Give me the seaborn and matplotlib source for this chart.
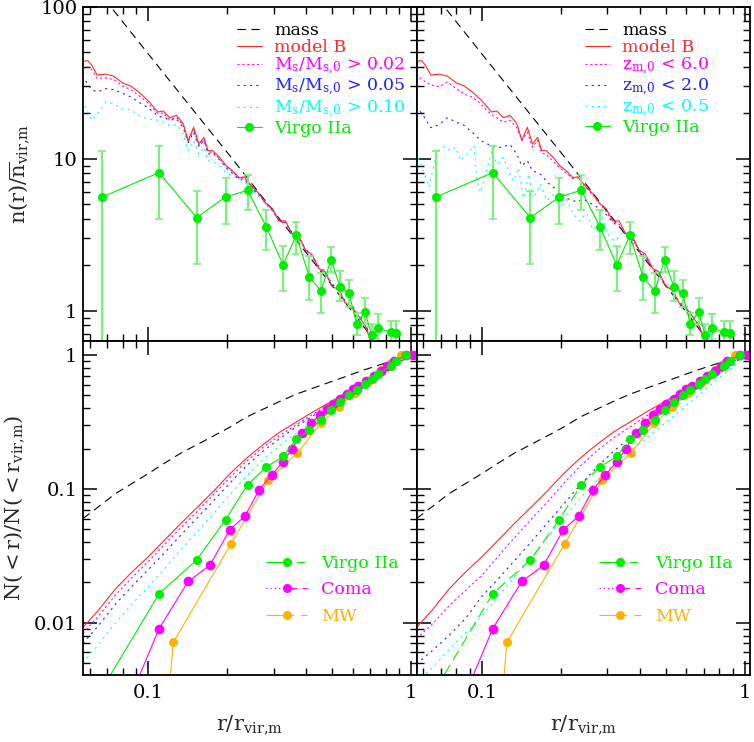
import numpy as np
import matplotlib
matplotlib.use('Agg')
import matplotlib.pyplot as plt
import seaborn as sns
from matplotlib.lines import Line2D
from matplotlib.ticker import LogLocator, FuncFormatter, NullFormatter

sns.set_style('ticks')
plt.rcParams['font.family'] = ['DejaVu Serif']
plt.rcParams['mathtext.fontset'] = 'dejavuserif'
plt.rcParams['lines.scale_dashes'] = False

# ---- top row: n(r)/nbar profiles ----
rx = [0.056, 0.059, 0.061, 0.064, 0.069, 0.074, 0.080, 0.086, 0.092, 0.099,
      0.105, 0.109, 0.114, 0.121, 0.128, 0.136, 0.142, 0.149, 0.156, 0.163,
      0.169, 0.176, 0.187, 0.198, 0.210, 0.222, 0.232, 0.239, 0.250, 0.264,
      0.280, 0.297, 0.315, 0.333, 0.353, 0.374, 0.397, 0.420, 0.446, 0.472,
      0.500, 0.530, 0.562, 0.596, 0.632, 0.670, 0.700, 0.740]
red_n = [43.5, 44.2, 41.3, 35.5, 36.0, 34.9, 31.5, 30.0, 27.5, 24.5,
         21.9, 20.3, 20.6, 18.6, 19.3, 17.0, 13.2, 16.1, 12.5, 13.8,
         11.3, 11.3, 10.2, 9.0, 8.3, 7.5, 7.6, 7.1, 6.5, 5.9,
         5.1, 4.7, 3.9, 3.9, 3.2, 3.1, 2.5, 2.35, 1.9, 1.8,
         1.45, 1.38, 1.13, 1.06, 0.92, 0.80, 0.64, 0.55]
ms02 = [41.3, 40.0, 38.7, 33.7, 34.0, 33.2, 30.0, 28.5, 26.1, 23.6,
        21.2, 19.8, 20.0, 18.0, 18.7, 16.5, 12.9, 15.7, 12.2, 13.5,
        11.0, 11.1, 10.0, 8.9, 8.2, 7.4, 7.5, 7.0, 6.4, 5.8,
        5.1, 4.6, 3.9, 3.8, 3.2, 3.05, 2.5, 2.3, 1.9, 1.78,
        1.45, 1.36, 1.12, 1.04, 0.91, 0.80, 0.64, 0.55]
ms05 = [35.0, 31.0, 28.5, 27.5, 28.9, 28.5, 26.9, 25.5, 23.6, 21.9,
        20.3, 19.0, 18.8, 17.9, 18.3, 16.0, 12.8, 14.9, 12.0, 13.2,
        10.7, 10.9, 9.8, 8.7, 8.0, 7.3, 7.4, 6.9, 6.3, 5.8,
        5.2, 4.6, 3.9, 3.8, 3.25, 3.0, 2.55, 2.3, 1.95, 1.78,
        1.5, 1.38, 1.15, 1.07, 0.93, 0.82, 0.68, 0.58]
ms10 = [24.2, 20.3, 17.9, 19.5, 23.6, 23.0, 21.3, 21.0, 19.3, 18.3,
        18.0, 17.9, 17.4, 16.5, 16.8, 14.6, 11.3, 13.2, 10.7, 11.9,
        9.7, 9.6, 9.0, 8.1, 7.7, 7.3, 7.1, 6.7, 6.2, 5.6,
        5.0, 4.5, 3.8, 3.7, 3.2, 3.0, 2.55, 2.35, 1.95, 1.85,
        1.5, 1.42, 1.15, 1.10, 0.95, 0.85, 0.72, 0.62]
zm60 = [35.5, 33.5, 32.0, 30.5, 29.8, 32.0, 28.9, 26.5, 25.5, 23.0,
        20.6, 19.5, 18.6, 17.4, 17.9, 16.0, 13.2, 14.9, 11.9, 13.2,
        10.9, 10.7, 9.6, 8.7, 8.0, 7.4, 7.5, 7.0, 6.4, 5.8,
        5.1, 4.5, 3.9, 3.7, 3.2, 2.95, 2.5, 2.25, 1.9, 1.75,
        1.46, 1.36, 1.13, 1.04, 0.92, 0.80, 0.65, 0.56]
zm20 = [21.9, 20.0, 18.3, 16.0, 16.8, 18.6, 17.4, 16.5, 14.9, 13.2,
        12.5, 12.2, 11.8, 12.0, 12.4, 10.7, 9.0, 9.7, 8.3, 8.1,
        7.8, 7.1, 6.5, 6.1, 5.5, 5.3, 5.2, 5.4, 5.3, 5.0,
        4.7, 4.3, 3.8, 3.6, 3.15, 2.95, 2.5, 2.25, 1.9, 1.76,
        1.47, 1.37, 1.14, 1.05, 0.93, 0.81, 0.67, 0.57]
zx05 = [0.056, 0.0594, 0.063, 0.0677, 0.0718, 0.0761, 0.0795, 0.083, 0.088, 0.0933,
        0.096, 0.0989, 0.1033, 0.1094, 0.114, 0.121, 0.1265, 0.132, 0.138, 0.144,
        0.151, 0.157, 0.167, 0.177, 0.187, 0.199, 0.210, 0.223, 0.236, 0.250,
        0.265, 0.285, 0.300, 0.320, 0.345, 0.370, 0.400, 0.430, 0.460, 0.500,
        0.530, 0.560, 0.600, 0.630, 0.670, 0.700, 0.740, 0.780]
zm05 = [11.0, 8.7, 6.5, 11.3, 12.0, 11.3, 11.9, 9.7, 10.7, 12.2,
        7.1, 6.0, 7.9, 11.3, 9.2, 10.2, 8.3, 7.1, 8.7, 5.5,
        7.9, 5.5, 6.8, 5.3, 5.8, 4.8, 5.4, 4.3, 3.9, 4.4,
        3.4, 4.3, 3.2, 2.87, 3.3, 3.2, 2.4, 2.1, 1.9, 1.5,
        1.45, 1.15, 1.10, 0.95, 0.88, 0.75, 0.70, 0.65]
mass_x = [0.056, 0.072, 0.100, 0.150, 0.209, 0.300, 0.400, 0.500, 0.594, 0.700, 0.800]
mass_n = [166, 100, 49, 20.4, 10, 4.5, 2.4, 1.47, 1.0, 0.69, 0.49]

# Virgo IIa density with error bars
vx = [0.0669, 0.110, 0.153, 0.197, 0.239, 0.282, 0.326, 0.366, 0.411, 0.455,
      0.496, 0.537, 0.581, 0.621, 0.668, 0.708, 0.750, 0.837, 0.880]
vy = [5.6, 8.1, 4.1, 5.6, 6.2, 3.55, 2.0, 3.13, 1.66, 1.35,
      2.17, 1.44, 1.30, 0.82, 0.98, 0.69, 0.77, 0.72, 0.71]
v_lo = [0.3, 4.0, 2.04, 3.7, 4.6, 2.5, 1.34, 2.37, 1.18, 0.96,
        1.79, 1.16, 1.06, 0.69, 0.82, 0.55, 0.60, 0.58, 0.58]
v_hi = [11.2, 12.1, 6.1, 7.45, 7.8, 4.57, 2.65, 3.85, 2.28, 1.77,
        2.61, 1.83, 1.60, 0.97, 1.22, 0.82, 0.95, 0.855, 0.85]

# ---- bottom row: cumulative N(<r)/N(<rvir) ----
cx = [0.0565, 0.065, 0.075, 0.087, 0.100, 0.115, 0.133, 0.154, 0.178, 0.205,
      0.237, 0.274, 0.316, 0.365, 0.422, 0.487, 0.562, 0.649, 0.750, 0.866,
      0.950, 1.000]
mass_c = [0.060, 0.074, 0.092, 0.110, 0.130, 0.155, 0.185, 0.215, 0.250, 0.290,
          0.345, 0.395, 0.450, 0.510, 0.565, 0.625, 0.690, 0.765, 0.840, 0.920,
          0.970, 1.000]
red_c = [0.0092, 0.0125, 0.0178, 0.024, 0.031, 0.041, 0.055, 0.073, 0.097, 0.130,
         0.170, 0.215, 0.265, 0.315, 0.375, 0.44, 0.52, 0.61, 0.72, 0.85, 0.95, 1.0]
ms02_c = [0.0083, 0.0113, 0.016, 0.0218, 0.0285, 0.038, 0.051, 0.068, 0.091, 0.122,
          0.161, 0.205, 0.25, 0.30, 0.36, 0.43, 0.51, 0.60, 0.71, 0.84, 0.94, 1.0]
ms05_c = [0.0070, 0.0096, 0.0137, 0.0188, 0.0248, 0.033, 0.045, 0.061, 0.082, 0.111,
          0.149, 0.192, 0.237, 0.29, 0.35, 0.42, 0.50, 0.59, 0.70, 0.83, 0.94, 1.0]
ms10_c = [0.0050, 0.0069, 0.0099, 0.0138, 0.0185, 0.025, 0.035, 0.048, 0.066, 0.091,
          0.125, 0.165, 0.21, 0.26, 0.32, 0.39, 0.475, 0.57, 0.68, 0.82, 0.93, 1.0]
zm60_c = [0.0076, 0.0098, 0.0133, 0.0175, 0.0225, 0.031, 0.043, 0.059, 0.080, 0.110,
          0.148, 0.192, 0.24, 0.29, 0.35, 0.42, 0.50, 0.59, 0.70, 0.84, 0.94, 1.0]
zm20_c = [0.0049, 0.0062, 0.0080, 0.0108, 0.0157, 0.021, 0.029, 0.040, 0.056, 0.077,
          0.107, 0.145, 0.19, 0.24, 0.30, 0.37, 0.45, 0.55, 0.67, 0.81, 0.93, 1.0]
zm05_c = [0.0036, 0.0046, 0.0063, 0.0084, 0.0112, 0.0155, 0.022, 0.030, 0.0435, 0.061,
          0.085, 0.115, 0.15, 0.19, 0.24, 0.30, 0.38, 0.48, 0.61, 0.77, 0.90, 1.0]

virgo_cx = [0.0669, 0.110, 0.153, 0.197, 0.239, 0.282, 0.326, 0.366, 0.411, 0.455,
            0.496, 0.537, 0.581, 0.621, 0.668, 0.708, 0.750, 0.837, 0.880, 0.960]
virgo_cy = [0.0032, 0.0164, 0.0294, 0.0587, 0.1077, 0.146, 0.175, 0.235, 0.274, 0.33,
            0.39, 0.446, 0.50, 0.55, 0.61, 0.66, 0.72, 0.83, 0.90, 1.0]
coma_x = [0.080, 0.110, 0.142, 0.172, 0.204, 0.234, 0.264, 0.295, 0.326, 0.353,
          0.385, 0.418, 0.450, 0.478, 0.503, 0.537, 0.570, 0.600, 0.630, 0.675,
          0.720, 0.770, 0.810, 0.860, 0.960, 1.020]
coma_y = [0.002, 0.0090, 0.0203, 0.0269, 0.0492, 0.063, 0.098, 0.127, 0.159, 0.200,
          0.263, 0.313, 0.357, 0.393, 0.428, 0.467, 0.51, 0.555, 0.587, 0.64,
          0.70, 0.76, 0.83, 0.90, 1.0, 1.0]
mw_x = [0.118, 0.1246, 0.207, 0.287, 0.369, 0.453, 0.530, 0.610, 0.688, 0.770, 0.840, 0.920, 1.010]
mw_y = [0.002, 0.0071, 0.039, 0.117, 0.185, 0.309, 0.409, 0.52, 0.63, 0.77, 0.88, 1.0, 1.0]

c_red = '#ff2a2a'
c_mag = '#ff00ff'
c_blue = '#2020ff'
c_cyan = '#00ffff'
c_green = '#00ee00'
c_err = '#7cf07c'
c_orange = '#ffb000'
lw = 0.8

fig, axes = plt.subplots(2, 2, figsize=(7.54, 7.42), dpi=100)
plt.subplots_adjust(left=0.110, right=0.995, bottom=0.090, top=0.991, wspace=0, hspace=0)

for ax in axes.flat:
    ax.set_xscale('log')
    ax.set_yscale('log')
    ax.set_xlim(0.0565, 1.05)

# top row
for j, ax in enumerate(axes[0]):
    sns.lineplot(x=mass_x, y=mass_n, ax=ax, color='k', lw=lw, linestyle=(0, (6, 4)), sort=False, estimator=None)
    if j == 0:
        sns.lineplot(x=rx, y=ms10, ax=ax, color=c_cyan, lw=lw, linestyle=(0, (1.5, 3)), sort=False, estimator=None)
        sns.lineplot(x=rx, y=ms05, ax=ax, color=c_blue, lw=lw, linestyle=(0, (1.5, 3)), sort=False, estimator=None)
        sns.lineplot(x=rx, y=ms02, ax=ax, color=c_mag, lw=lw, linestyle=(0, (1.5, 2)), sort=False, estimator=None)
    else:
        sns.lineplot(x=zx05, y=zm05, ax=ax, color=c_cyan, lw=lw, linestyle=(0, (1.5, 3)), sort=False, estimator=None)
        sns.lineplot(x=rx, y=zm20, ax=ax, color=c_blue, lw=lw, linestyle=(0, (1.5, 3)), sort=False, estimator=None)
        sns.lineplot(x=rx, y=zm60, ax=ax, color=c_mag, lw=lw, linestyle=(0, (1.5, 2)), sort=False, estimator=None)
    sns.lineplot(x=rx, y=red_n, ax=ax, color=c_red, lw=lw, sort=False, estimator=None)
    yerr = [np.array(vy) - np.array(v_lo), np.array(v_hi) - np.array(vy)]
    ax.errorbar(vx, vy, yerr=yerr, fmt='none', ecolor=c_err, elinewidth=1.6, capsize=3, capthick=1.2)
    sns.lineplot(x=vx, y=vy, ax=ax, color=c_green, lw=lw, marker='o', markersize=6.5,
                 markeredgewidth=0, sort=False, estimator=None)
    ax.set_ylim(0.633, 100)

# bottom row
for j, ax in enumerate(axes[1]):
    sns.lineplot(x=cx, y=mass_c, ax=ax, color='k', lw=lw, linestyle=(0, (6, 4)), sort=False, estimator=None)
    if j == 0:
        sns.lineplot(x=cx, y=ms10_c, ax=ax, color=c_cyan, lw=lw, linestyle=(0, (1.5, 3)), sort=False, estimator=None)
        sns.lineplot(x=cx, y=ms05_c, ax=ax, color=c_blue, lw=lw, linestyle=(0, (1.5, 3)), sort=False, estimator=None)
        sns.lineplot(x=cx, y=ms02_c, ax=ax, color=c_mag, lw=lw, linestyle=(0, (1.5, 2)), sort=False, estimator=None)
        vls = '-'
    else:
        sns.lineplot(x=cx, y=zm05_c, ax=ax, color=c_cyan, lw=lw, linestyle=(0, (1.5, 3)), sort=False, estimator=None)
        sns.lineplot(x=cx, y=zm20_c, ax=ax, color=c_blue, lw=lw, linestyle=(0, (1.5, 3)), sort=False, estimator=None)
        sns.lineplot(x=cx, y=zm60_c, ax=ax, color=c_mag, lw=lw, linestyle=(0, (1.5, 2)), sort=False, estimator=None)
        vls = (0, (8, 4))
    sns.lineplot(x=cx, y=red_c, ax=ax, color=c_red, lw=lw, sort=False, estimator=None)
    sns.lineplot(x=mw_x, y=mw_y, ax=ax, color=c_orange, lw=lw, marker='o', markersize=6.5,
                 markeredgewidth=0, sort=False, estimator=None)
    sns.lineplot(x=coma_x, y=coma_y, ax=ax, color=c_mag, lw=lw, marker='o', markersize=7,
                 markeredgewidth=0, sort=False, estimator=None)
    sns.lineplot(x=virgo_cx, y=virgo_cy, ax=ax, color=c_green, lw=lw, linestyle=vls, marker='o',
                 markersize=6.5, markeredgewidth=0, sort=False, estimator=None)
    ax.set_ylim(0.00404, 1.278)

# ticks
fmt = FuncFormatter(lambda v, p: '%g' % v)
for i, ax in enumerate(axes.flat):
    ax.xaxis.set_major_locator(LogLocator(base=10))
    ax.yaxis.set_major_locator(LogLocator(base=10))
    ax.xaxis.set_minor_locator(LogLocator(base=10, subs=np.arange(2, 10)))
    ax.yaxis.set_minor_locator(LogLocator(base=10, subs=np.arange(2, 10)))
    ax.xaxis.set_major_formatter(fmt)
    ax.yaxis.set_major_formatter(fmt)
    ax.xaxis.set_minor_formatter(NullFormatter())
    ax.yaxis.set_minor_formatter(NullFormatter())
    ax.tick_params(which='both', direction='in', top=True, right=True, bottom=True, left=True,
                   labelsize=14, colors='k')
    ax.tick_params(which='major', length=10, width=1.1)
    ax.tick_params(which='minor', length=5, width=1.0)
    ax.tick_params(axis='x', pad=6)
    ax.tick_params(axis='y', pad=4)
    for s in ax.spines.values():
        s.set_linewidth(1.3)
        s.set_color('k')
    ax.set_xlabel(None)
    ax.set_ylabel(None)

for ax in axes[0]:
    ax.tick_params(labelbottom=False)
for ax in axes[:, 1]:
    ax.tick_params(labelleft=False)

axes[0, 0].set_ylabel(r'$\mathrm{n(r)/\overline{n}_{vir{,}m}}$', fontsize=15, labelpad=6)
axes[1, 0].set_ylabel(r'$\mathrm{N(<r)/N(<r_{vir{,}m})}$', fontsize=15, labelpad=6)
for ax in axes[1]:
    ax.set_xlabel(r'$\mathrm{r/r_{vir{,}m}}$', fontsize=15, labelpad=8)

# legends
h_mass = Line2D([], [], color='k', lw=lw, ls=(0, (6, 4)))
h_red = Line2D([], [], color=c_red, lw=lw)
h_mag = Line2D([], [], color=c_mag, lw=lw, ls=(0, (1.5, 2)))
h_blue = Line2D([], [], color=c_blue, lw=lw, ls=(0, (1.5, 3)))
h_cyan = Line2D([], [], color=c_cyan, lw=lw, ls=(0, (1.5, 3)))
h_vir = Line2D([], [], color=c_green, lw=lw, marker='o', markersize=6.5, markeredgewidth=0)
top_handles = [h_mass, h_red, h_mag, h_blue, h_cyan, h_vir]
left_labels = ['mass', 'model B',
               r'$\mathrm{M_s/M_{s{,}0}}$ > 0.02',
               r'$\mathrm{M_s/M_{s{,}0}}$ > 0.05',
               r'$\mathrm{M_s/M_{s{,}0}}$ > 0.10',
               'Virgo IIa']
right_labels = ['mass', 'model B',
                r'$\mathrm{z_{m{,}0}}$ < 6.0',
                r'$\mathrm{z_{m{,}0}}$ < 2.0',
                r'$\mathrm{z_{m{,}0}}$ < 0.5',
                'Virgo IIa']
leg_kw = dict(frameon=False, fontsize=12.5, handlelength=1.45, handletextpad=0.7,
              labelspacing=0.0, borderaxespad=0, labelcolor='linecolor', loc='upper left')
axes[0, 0].legend(top_handles, left_labels, bbox_to_anchor=(0.44, 0.975), **leg_kw)
axes[0, 1].legend(top_handles, right_labels, bbox_to_anchor=(0.483, 0.975), **leg_kw)

b_vir = Line2D([], [], color=c_green, lw=lw, ls=(0, (17, 5, 6, 10)), marker='o', markersize=6.5, markeredgewidth=0)
b_coma = Line2D([], [], color=c_mag, lw=lw, ls=(0, (1, 2, 1, 2, 1, 2, 1, 2, 10, 4, 8, 10)),
                marker='o', markersize=6.5, markeredgewidth=0)
b_mw = Line2D([], [], color=c_orange, lw=lw, ls=(0, (20, 5, 8, 10)), marker='o', markersize=6.5,
              markeredgewidth=0)
for ax in axes[1]:
    ax.legend([b_vir, b_coma, b_mw], ['Virgo IIa', 'Coma', 'MW'], frameon=False, fontsize=12.5,
              handlelength=2.4, handletextpad=0.8, labelspacing=0.55, borderaxespad=0,
              labelcolor='linecolor', loc='lower left', bbox_to_anchor=(0.527, 0.13))

fig.savefig('out.png', dpi=100)
